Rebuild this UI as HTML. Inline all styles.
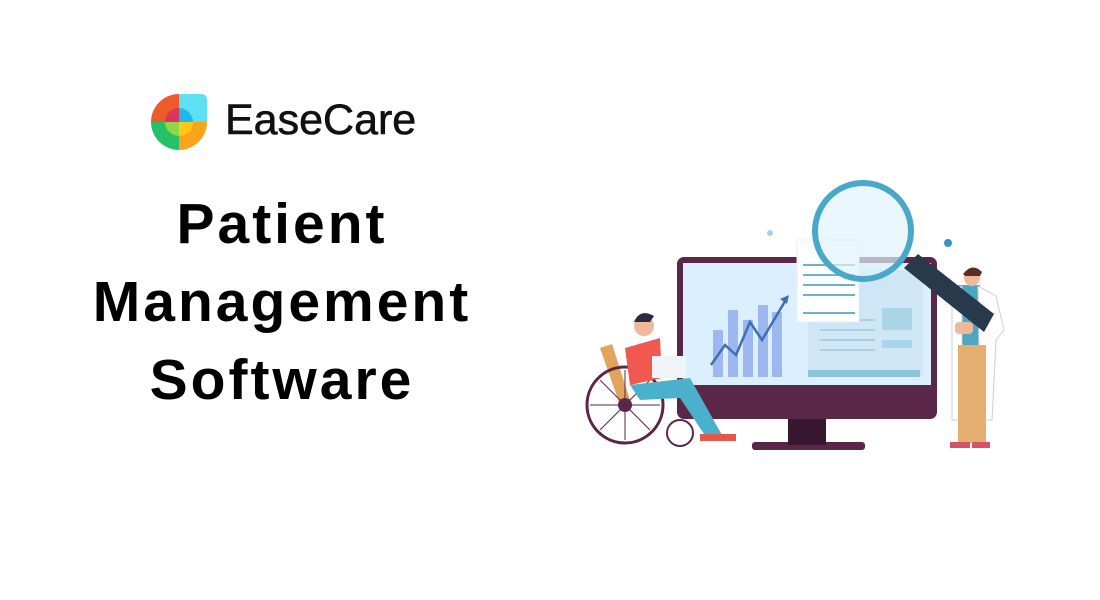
<!DOCTYPE html>
<html><head><meta charset="utf-8"><style>
html,body{margin:0;padding:0;background:#fff;}
body{width:1100px;height:600px;position:relative;overflow:hidden;font-family:"Liberation Sans",sans-serif;}
.t{position:absolute;left:0;width:564px;text-align:center;font-weight:bold;font-size:57px;letter-spacing:3px;color:#000;line-height:1;}
</style></head><body>
<svg width="1100" height="600" style="position:absolute;left:0;top:0">
<g transform="translate(179,122)">
<path d="M0,0 L-28,0 A28,28 0 0 1 0,-28 Z" fill="#ee5a2a"/>
<path d="M0,0 L0,-28 L22,-28 Q28,-28 28,-22 L28,0 Z" fill="#5de0f2"/>
<path d="M0,0 L-28,0 A28,28 0 0 0 0,28 Z" fill="#27c06a"/>
<path d="M0,0 L28,0 A28,28 0 0 1 0,28 Z" fill="#fba31a"/>
<path d="M0,0 L-14,0 A14,14 0 0 1 0,-14 Z" fill="#d9365a"/>
<path d="M0,0 L0,-14 A14,14 0 0 1 14,0 Z" fill="#1fb8ec"/>
<path d="M0,0 L-14,0 A14,14 0 0 0 0,14 Z" fill="#8fd64a"/>
<path d="M0,0 L14,0 A14,14 0 0 1 0,14 Z" fill="#ffc814"/>
</g>
<text x="225" y="134" font-family="Liberation Sans,sans-serif" font-size="43" fill="#111" stroke="#111" stroke-width="0.6">EaseCare</text>

<rect x="752" y="442" width="113" height="8" rx="3" fill="#5a2748"/>
<rect x="788" y="415" width="38" height="30" fill="#3a1730"/>
<rect x="677" y="257" width="260" height="162" rx="7" fill="#5a2748"/>
<rect x="683" y="263" width="248" height="122" fill="#dcefff"/>
<g fill="#9cb8ef">
<rect x="713" y="330" width="10" height="47"/>
<rect x="728" y="310" width="10" height="67"/>
<rect x="743" y="320" width="10" height="57"/>
<rect x="758" y="305" width="10" height="72"/>
<rect x="772" y="312" width="10" height="65"/>
</g>
<polyline points="711,365 725,345 736,355 750,322 762,340 787,298" fill="none" stroke="#3f6fb8" stroke-width="2.5"/>
<polygon points="789,295 780,299 787,304" fill="#3f6fb8"/>
<rect x="808" y="270" width="115" height="105" fill="#cfe6f6"/>
<rect x="808" y="370" width="112" height="7" fill="#8cc4dc"/>
<rect x="882" y="308" width="30" height="22" fill="#a9d5e6"/>
<rect x="882" y="340" width="30" height="8" fill="#a9d5e6"/>
<g stroke="#a9cfe0" stroke-width="2"><line x1="820" y1="320" x2="875" y2="320"/><line x1="820" y1="330" x2="875" y2="330"/><line x1="820" y1="340" x2="875" y2="340"/><line x1="820" y1="350" x2="875" y2="350"/></g>
<rect x="797" y="240" width="62" height="82" fill="#fff" stroke="#e6eef4"/>
<g stroke="#6ab3c9" stroke-width="2"><line x1="803" y1="265" x2="855" y2="265"/><line x1="803" y1="275" x2="855" y2="275"/><line x1="803" y1="285" x2="855" y2="285"/><line x1="803" y1="295" x2="855" y2="295"/><line x1="803" y1="313" x2="855" y2="313"/></g>
<!-- doctor -->
<rect x="958" y="285" width="22" height="60" fill="#4da7c0"/>
<path d="M952,290 L962,286 L962,420 L952,420 Z" fill="#fff" stroke="#ccd"/>
<path d="M978,286 L996,296 L1004,330 L996,340 L992,420 L980,420 Z" fill="#fff" stroke="#ccd"/>
<rect x="958" y="345" width="28" height="98" fill="#e3b072"/>
<circle cx="972" cy="278" r="8" fill="#f0b89a"/>
<path d="M963,274 Q972,262 982,272 L980,276 L965,276 Z" fill="#5a2f20"/>
<rect x="950" y="442" width="20" height="6" fill="#d9506a"/>
<rect x="972" y="442" width="18" height="6" fill="#d9506a"/>
<!-- magnifier -->
<polygon points="904,268 918,254 994,314 984,332" fill="#27394a"/>
<circle cx="863" cy="231" r="48" fill="#e0f2fb" fill-opacity="0.7" stroke="#49a7c8" stroke-width="6"/>
<rect x="955" y="322" width="18" height="12" rx="4" fill="#f0b89a"/>
<!-- wheelchair man -->
<path d="M600,348 L612,344 L630,400 L620,405 Z" fill="#e2a35a"/>
<circle cx="625" cy="405" r="38" fill="none" stroke="#5a2748" stroke-width="3"/>
<g stroke="#5a2748" stroke-width="1"><line x1="590" y1="405" x2="660" y2="405"/><line x1="625" y1="370" x2="625" y2="440"/><line x1="600" y1="380" x2="650" y2="430"/><line x1="650" y1="380" x2="600" y2="430"/></g>
<circle cx="625" cy="405" r="7" fill="#5a2748"/>
<circle cx="680" cy="433" r="13" fill="none" stroke="#5a2748" stroke-width="2"/>
<path d="M625,348 L660,338 L662,378 L630,385 Z" fill="#ef5950"/>
<circle cx="644" cy="326" r="10" fill="#f0b89a"/>
<path d="M634,322 Q640,308 654,316 L650,322 Z" fill="#2a2a40"/>
<path d="M630,385 L690,378 L722,435 L708,440 L680,398 L640,400 Z" fill="#4bb0cc"/>
<rect x="652" y="356" width="34" height="22" fill="#eef4f8"/>
<rect x="700" y="434" width="36" height="7" fill="#e2594e"/>
<circle cx="770" cy="233" r="3" fill="#9fd3ea"/>
<circle cx="948" cy="243" r="4" fill="#3a8fd0"/>
</svg>
<div class="t" style="top:196px">Patient</div>
<div class="t" style="top:274px">Management</div>
<div class="t" style="top:352px">Software</div>
</body></html>
